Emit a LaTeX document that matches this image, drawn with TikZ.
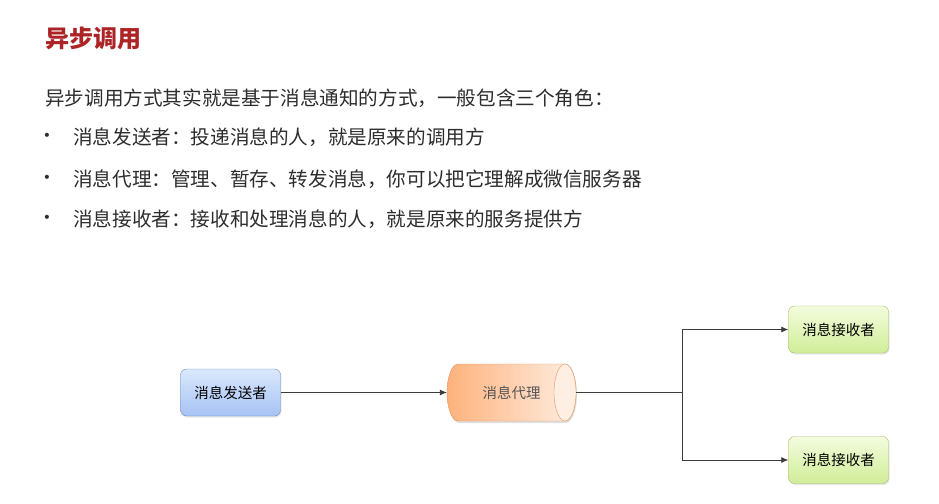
\documentclass[tikz,border=0pt]{standalone}
\usepackage{fontspec}
\setmainfont{Noto Sans CJK SC}
\newfontfamily\bulletfont{DejaVu Sans}
\usetikzlibrary{arrows.meta,shadows}
\definecolor{titlered}{RGB}{172,36,38}
\definecolor{bodytext}{RGB}{45,45,45}
\definecolor{blueTop}{RGB}{218,232,252}
\definecolor{blueBot}{RGB}{166,194,244}
\definecolor{blueBorder}{RGB}{110,140,190}
\definecolor{greenTop}{RGB}{244,252,222}
\definecolor{greenBot}{RGB}{208,237,152}
\definecolor{greenBorder}{RGB}{160,190,110}
\definecolor{orangeL}{RGB}{253,178,124}
\definecolor{orangeR}{RGB}{255,238,226}
\definecolor{orangeBorder}{RGB}{225,150,100}
\definecolor{lineGray}{RGB}{60,60,60}
\definecolor{brokerText}{RGB}{85,85,85}
\tikzset{
  x=1pt, y=1pt,
  titletext/.style={anchor=west, inner sep=0pt, text=titlered, font=\fontsize{24}{28}\selectfont\bfseries},
  bodyline/.style={anchor=west, inner sep=0pt, text=bodytext, font=\fontsize{19.6}{24}\selectfont},
  bulletmark/.style={anchor=center, inner sep=0pt, text=bodytext, font=\bulletfont\fontsize{14}{16}\selectfont},
  roundbox/.style={rounded corners=6pt, minimum width=100pt, minimum height=47pt, inner sep=0pt,
    font=\fontsize{14.5}{17}\selectfont, text=black,
    drop shadow={opacity=0.18, shadow xshift=1pt, shadow yshift=-1.5pt}},
  senderbox/.style={roundbox, draw=blueBorder, top color=blueTop, bottom color=blueBot},
  receiverbox/.style={roundbox, draw=greenBorder, top color=greenTop, bottom color=greenBot},
  conn/.style={draw=lineGray, line width=0.8pt, -{Latex[length=7pt,width=6pt]}},
  plainconn/.style={draw=lineGray, line width=0.8pt},
}
\begin{document}
\begin{tikzpicture}
\useasboundingbox[fill=white] (0,0) rectangle (939,-503);

\node[titletext] (title) at (45,-38) {异步调用};
\node[bodyline] (intro) at (45,-98) {异步调用方式其实就是基于消息通知的方式，一般包含三个角色：};
\node[bulletmark] (b1) at (47,-137) {•};
\node[bodyline] (l1) at (73,-137) {消息发送者：投递消息的人，就是原来的调用方};
\node[bulletmark] (b2) at (47,-179) {•};
\node[bodyline] (l2) at (73,-179) {消息代理：管理、暂存、转发消息，你可以把它理解成微信服务器};
\node[bulletmark] (b3) at (47,-219) {•};
\node[bodyline] (l3) at (73,-219) {消息接收者：接收和处理消息的人，就是原来的服务提供方};

% sender
\node[senderbox] (sender) at (230.5,-392.5) {消息发送者};

% broker cylinder (drawn manually)
\fill[black, opacity=0.12] (459,-366) -- (566,-366) arc[start angle=90, end angle=-90, x radius=11, y radius=28.5]
  -- (459,-423) arc[start angle=270, end angle=90, x radius=11, y radius=28.5] -- cycle;
\path[draw=orangeBorder, left color=orangeL, right color=orangeR]
  (458,-364) -- (565,-364) arc[start angle=90, end angle=-90, x radius=11, y radius=28.5]
  -- (458,-421) arc[start angle=270, end angle=90, x radius=11, y radius=28.5] -- cycle;
\path[draw=orangeBorder, fill=orangeR] (565,-392.5) ellipse[x radius=11, y radius=28.5];
\node[minimum width=129pt, minimum height=57pt, inner sep=0pt,
  font=\fontsize{14.5}{17}\selectfont, text=brokerText] (broker) at (511.5,-392.5) {消息代理};

% receivers
\node[receiverbox] (recv1) at (838.5,-329.5) {消息接收者};
\node[receiverbox] (recv2) at (838.5,-460) {消息接收者};

\coordinate (split) at (682,-392.5);

\draw[conn] (sender.east) -- (broker.west);
\draw[plainconn] (broker.east) -- (split);
\draw[conn] (split) |- (recv1.west);
\draw[conn] (split) |- (recv2.west);
\end{tikzpicture}
\end{document}
